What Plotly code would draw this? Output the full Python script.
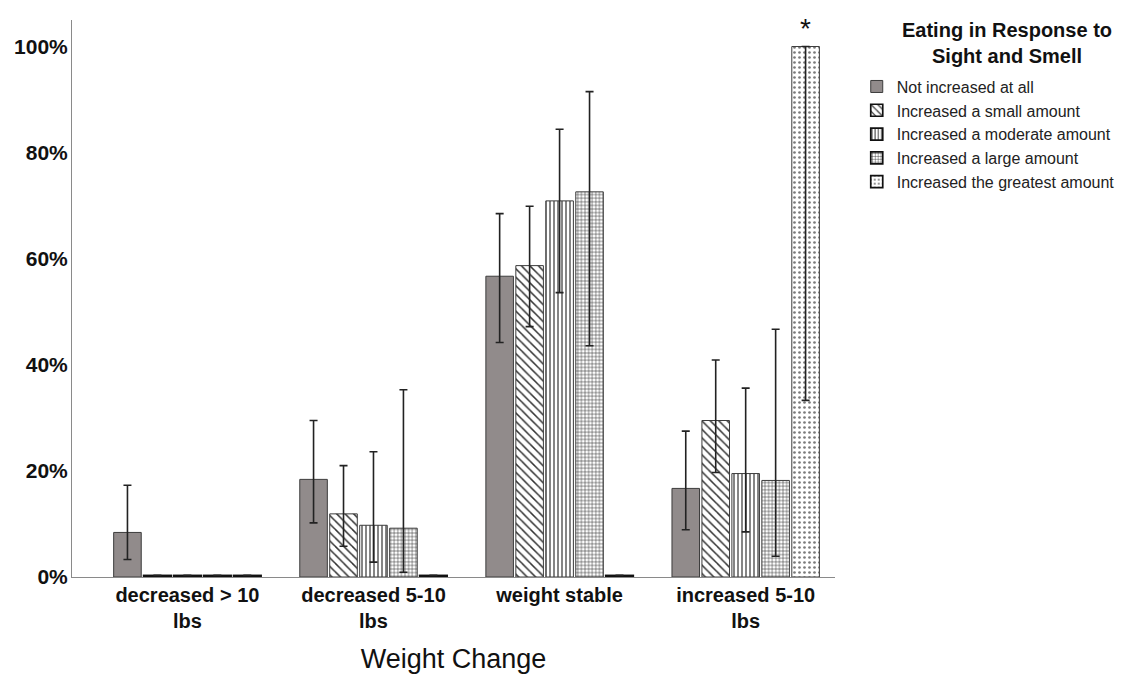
import plotly.graph_objects as go

# ---------------- data ----------------
categories = ["decreased > 10<br>lbs", "decreased 5-10<br>lbs", "weight stable", "increased 5-10<br>lbs"]
series_names = ["Not increased at all", "Increased a small amount",
                "Increased a moderate amount", "Increased a large amount",
                "Increased the greatest amount"]

not_increased = [8.4, 18.4, 56.7, 16.7]
not_increased_lo = [3.3, 10.2, 44.2, 8.9]
not_increased_hi = [17.3, 29.5, 68.5, 27.5]

small_amount = [0, 11.9, 58.7, 29.5]
small_amount_lo = [None, 5.8, 47.2, 19.7]
small_amount_hi = [None, 21.0, 69.9, 40.9]

moderate_amount = [0, 9.75, 70.9, 19.5]
moderate_amount_lo = [None, 2.8, 53.6, 8.5]
moderate_amount_hi = [None, 23.6, 84.4, 35.6]

large_amount = [0, 9.2, 72.6, 18.2]
large_amount_lo = [None, 0.9, 43.6, 3.9]
large_amount_hi = [None, 35.3, 91.5, 46.7]

greatest_amount = [0, 0, 0, 100]
greatest_amount_lo = [None, None, None, 33.3]
greatest_amount_hi = [None, None, None, 100]
greatest_marks = ["", "", "", "*"]

y_ticks = [0, 20, 40, 60, 80, 100]
y_tick_labels = [f"{v}%" for v in y_ticks]
legend_title = "Eating in Response to<br>Sight and Smell"
x_title = "Weight Change"

# ---------------- styling ----------------
FONT = "Liberation Sans, Arial, sans-serif"
OUTLINE = "#3c3c3c"
PAT = "#333333"
ZERO_STUB = 0.3  # visual height for zero-valued bars (drawn as a dark line at 0)

styles = [
    dict(shape="", size=6, fill="#918b8b", solidity=0.3, fg=PAT),
    dict(shape="\\", size=6, fill="white", solidity=0.25, fg=PAT),
    dict(shape="|", size=4, fill="white", solidity=0.3, fg=PAT),
    dict(shape="+", size=3.6, fill="white", solidity=0.28, fg=PAT),
    dict(shape=".", size=5, fill="white", solidity=0.22, fg="#7a7a7a"),
]

series = [
    (not_increased, not_increased_lo, not_increased_hi, None),
    (small_amount, small_amount_lo, small_amount_hi, None),
    (moderate_amount, moderate_amount_lo, moderate_amount_hi, None),
    (large_amount, large_amount_lo, large_amount_hi, None),
    (greatest_amount, greatest_amount_lo, greatest_amount_hi, greatest_marks),
]

fig = go.Figure()
for name, (vals, lo, hi, marks), st in zip(series_names, series, styles):
    ys = [v if v > 0 else ZERO_STUB for v in vals]
    line_w = [1 if v > 0 else 1.7 for v in vals]
    line_c = [OUTLINE if v > 0 else "#111111" for v in vals]
    err_plus = [(h - v) if h is not None else None for v, h in zip(vals, hi)]
    err_minus = [(v - l) if l is not None else None for v, l in zip(vals, lo)]
    kw = {}
    if marks is not None:
        kw = dict(text=marks, textposition="outside", cliponaxis=False,
                  textfont=dict(family=FONT, size=28, color="#111"))
    marker = dict(color=st["fill"], line=dict(color=line_c, width=line_w))
    if st["shape"]:
        marker["pattern"] = dict(shape=st["shape"], size=st["size"], solidity=st["solidity"],
                                 fgcolor=st["fg"], bgcolor="white", fillmode="replace")
    fig.add_trace(go.Bar(
        name=name, x=categories, y=ys, marker=marker,
        error_y=dict(type="data", symmetric=False, array=err_plus,
                     arrayminus=err_minus, color="#222", thickness=1.6, width=4),
        **kw,
    ))

fig.add_annotation(
    text=f"<b>{legend_title}</b>", xref="paper", yref="paper",
    x=1.226, y=0.958, xanchor="center", yanchor="middle", align="center",
    showarrow=False, font=dict(family=FONT, size=20, color="#111"),
)

fig.update_layout(
    width=1135, height=674,
    margin=dict(l=72, r=300, t=20, b=97),
    paper_bgcolor="white", plot_bgcolor="white",
    barmode="group", bargap=0.195, bargroupgap=0.08,
    font=dict(family=FONT, color="#111"),
    showlegend=True,
    legend=dict(
        x=1.0285, y=0.911, xanchor="left", yanchor="top",
        font=dict(family=FONT, size=16, color="#222"),
        bgcolor="rgba(0,0,0,0)", tracegroupgap=0,
    ),
    xaxis=dict(
        type="category", range=[-0.62, 3.48], automargin=False,
        showline=True, linecolor="#8a8a8a", linewidth=1,
        ticks="", showgrid=False, zeroline=False,
        tickfont=dict(family=FONT, size=20, color="#111", weight="bold"),
        title=dict(text=x_title, font=dict(family=FONT, size=27, color="#111"),
                   standoff=20),
    ),
    yaxis=dict(
        range=[0, 105], tickmode="array", tickvals=y_ticks, ticktext=y_tick_labels,
        automargin=False, ticklabelstandoff=-1,
        showline=True, linecolor="#8a8a8a", linewidth=1,
        ticks="", showgrid=False, zeroline=False,
        tickfont=dict(family=FONT, size=21, color="#111", weight="bold"),
    ),
)

fig.write_html("out.html")
